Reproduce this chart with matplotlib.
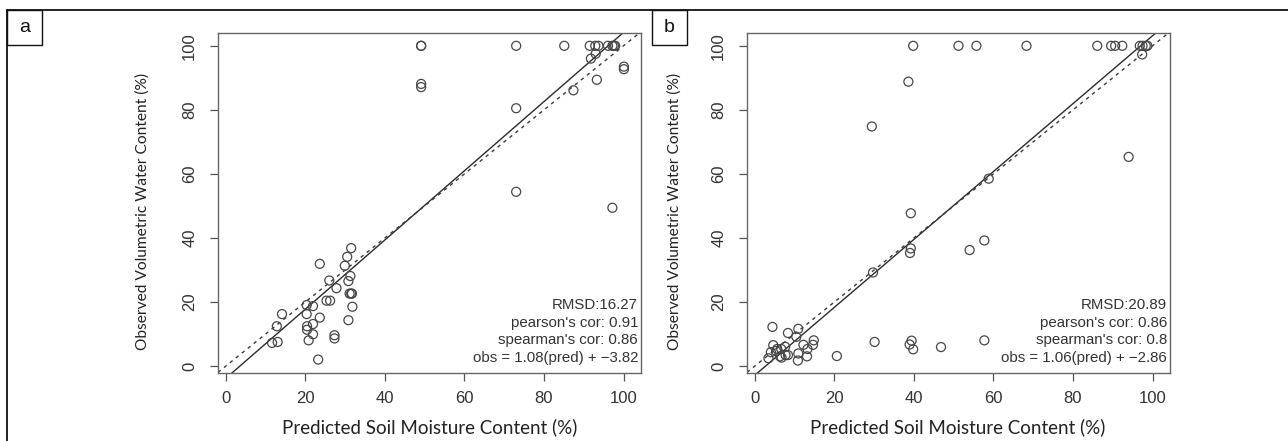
import matplotlib.pyplot as plt
from matplotlib.lines import Line2D
from matplotlib.patches import Rectangle

# panel a: predicted vs observed
pred_a = [49.1, 49.1, 73.0, 85.1, 91.5, 92.9, 93.7, 96.1, 97.2, 97.6, 97.9,
          91.8, 93.0, 93.3, 87.4, 100.1, 100.1, 49.1, 49.1, 73.0, 73.0, 97.2,
          11.6, 13.0, 12.8, 14.1, 20.3, 20.3, 20.4, 20.4, 20.8, 21.9, 21.9, 21.9,
          23.6, 23.6, 23.2, 25.3, 26.2, 26.0, 27.8, 27.3, 27.3, 29.9, 30.5, 31.5,
          31.3, 30.8, 31.5, 31.7, 31.1, 31.8, 30.8]
obs_a = [100, 100, 100, 100, 100, 100, 100, 100, 100, 100, 100,
         96.0, 97.5, 89.4, 86.1, 93.5, 92.7, 88.1, 87.1, 80.5, 54.4, 49.4,
         7.2, 7.5, 12.4, 16.2, 19.0, 16.2, 12.4, 11.3, 8.0, 18.7, 13.1, 9.9,
         15.1, 31.9, 2.0, 20.4, 20.4, 26.7, 24.3, 9.6, 8.6, 31.3, 34.1, 36.8,
         28.1, 26.5, 22.6, 22.6, 22.6, 18.5, 14.3]

# panel b
pred_b = [39.8, 51.2, 55.7, 68.3, 86.1, 89.6, 90.6, 92.4, 96.8, 97.5, 98.3, 98.7,
          97.4, 38.6, 29.4, 94.0, 58.8, 39.2, 39.2, 39.0, 54.0, 57.7, 29.7,
          30.1, 38.9, 39.4, 39.8, 46.8, 57.7, 20.6,
          4.4, 10.9, 8.3, 10.4, 4.6, 5.6, 5.3, 4.0, 3.4, 6.3, 6.7, 7.7, 8.3,
          7.6, 6.6, 10.9, 12.2, 14.8, 14.6, 13.2, 13.1, 10.8]
obs_b = [100, 100, 100, 100, 100, 100, 100, 100, 100, 100, 100, 100,
         97.3, 88.8, 74.8, 65.3, 58.5, 47.7, 36.7, 35.3, 36.2, 39.2, 29.2,
         7.5, 6.7, 7.9, 5.2, 5.9, 8.0, 3.1,
         12.2, 11.6, 10.3, 9.1, 6.5, 5.3, 4.7, 4.3, 2.4, 3.0, 2.6, 3.4, 3.4,
         6.0, 5.3, 3.9, 6.6, 8.0, 6.6, 5.3, 3.0, 1.7]

# fit lines obs = slope*pred + intercept
fit_a = (1.08, -3.82)
fit_b = (1.06, -2.86)
stats_a = ["RMSD:16.27", "pearson's cor: 0.91", "spearman's cor: 0.86",
           "obs = 1.08(pred) + \u22123.82"]
stats_b = ["RMSD:20.89", "pearson's cor: 0.86", "spearman's cor: 0.8",
           "obs = 1.06(pred) + \u22122.86"]
ticks = [0, 20, 40, 60, 80, 100]

W, H = 1288, 441
fig = plt.figure(figsize=(W / 100, H / 100), dpi=100)

def px_axes(l, t, r, b):
    return fig.add_axes([l / W, 1 - b / H, (r - l) / W, (b - t) / H])

def panel(ax, x, y, fit, stats):
    ax.scatter(x, y, s=42, facecolors='none', edgecolors='#474747', linewidths=0.9, zorder=3)
    ax.set_xlim(-2, 104.4)
    ax.set_ylim(-2.2, 104)
    ax.axline((0, fit[1]), slope=fit[0], color='#2b2b2b', lw=1.0)
    ax.axline((0, 0), slope=1, color='#3a3a3a', lw=1.0, ls=(0, (2.5, 3)))
    ax.set_xticks(ticks)
    ax.set_yticks(ticks)
    ax.tick_params(direction='out', length=6, width=0.9, color='#555555',
                   labelsize=12, labelcolor='#333333')
    ax.tick_params(axis='x', pad=7)
    ax.tick_params(axis='y', pad=9)
    for lab in ax.get_yticklabels():
        lab.set_rotation(90)
        lab.set_va('center')
    for sp in ax.spines.values():
        sp.set_color('#666666')
        sp.set_linewidth(1.0)
    for i, s in enumerate(stats):
        ax.text(0.993, 0.2 - i * 0.052, s, transform=ax.transAxes, ha='right', va='center',
                fontsize=10.8, color='#333333', family='Liberation Sans')

plt.rcParams['font.family'] = ['Liberation Sans', 'DejaVu Sans']

ax_a = px_axes(218, 33, 641, 373)
panel(ax_a, pred_a, obs_a, fit_a, stats_a)
ax_b = px_axes(747, 33, 1170, 373)
panel(ax_b, pred_b, obs_b, fit_b, stats_b)

# axis titles
for cx, ylx in [(430, 143), (958, 675)]:
    fig.text(cx / W, 1 - 427 / H, "Predicted Soil Moisture Content (%)", ha='center', va='center',
             fontsize=13.5, family='Lato', color='#222222')
    fig.text(ylx / W, 1 - 211 / H, "Observed Volumetric Water Content (%)", ha='center', va='center',
             rotation=90, fontsize=11.2, family='Lato', color='#222222')

# outer frame lines and panel letters
fig.add_artist(Line2D([7 / W, 1], [1 - 10 / H, 1 - 10 / H], color='#111111', lw=1.3))
fig.add_artist(Line2D([7 / W, 7 / W], [1 - 10 / H, 0], color='#111111', lw=1.3))
for lx, letter in [(7, 'a'), (652, 'b')]:
    fig.add_artist(Rectangle((lx / W, 1 - 45 / H), 35 / W, 35 / H, transform=fig.transFigure,
                             facecolor='white', edgecolor='#111111', lw=1.0))
    fig.text((lx + 17.5) / W, 1 - 28 / H, letter, ha='center', va='center', fontsize=14,
             family=['Liberation Sans Narrow', 'Liberation Sans'], color='#111111')

fig.savefig('out.png', dpi=100)
